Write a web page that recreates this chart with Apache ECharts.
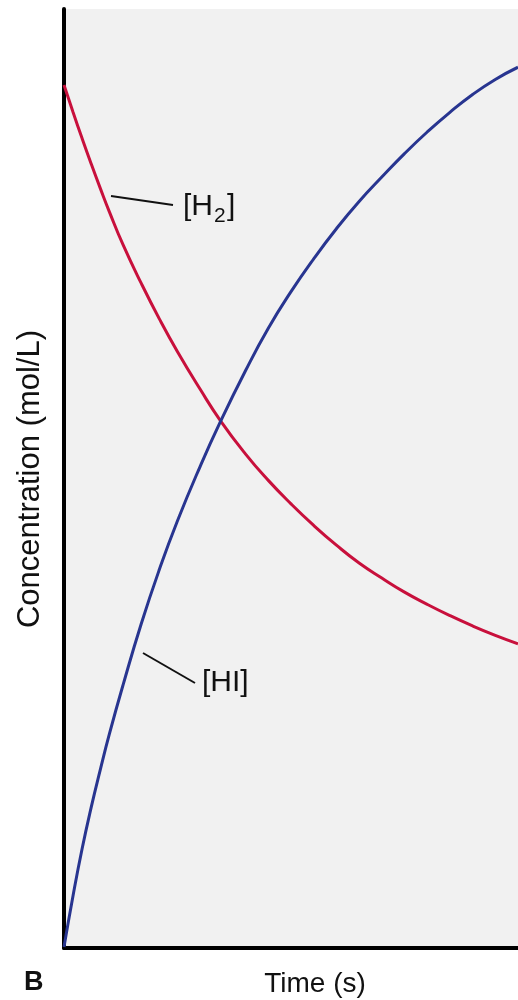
<!DOCTYPE html>
<html>
<head>
<meta charset="utf-8">
<script src="https://cdn.jsdelivr.net/npm/echarts@6/dist/echarts.min.js"></script>
<style>
  html, body { margin: 0; padding: 0; background: #fff; }
  #chart { width: 518px; height: 1000px; }
</style>
</head>
<body>
<div id="chart"></div>
<script>
// 浓度随时间变化 (读自图片, 两轴都是 0~100 的相对刻度)
var timeH2 = [0, 2, 4, 6, 8, 10, 13, 17, 21, 25, 30, 34.4, 40, 45, 50, 55, 60, 65, 70, 75, 80, 85, 90, 95, 100];
var concH2 = [91.9, 89.0, 86.2, 83.5, 80.9, 78.4, 74.9, 70.8, 67.0, 63.5, 59.5, 56.2, 52.6, 49.8, 47.3, 45.0, 42.9, 41.0, 39.4, 37.9, 36.6, 35.4, 34.3, 33.3, 32.4];

var timeHI = [0, 2, 4, 6, 8, 10, 13, 17, 21, 25, 30, 34.4, 40, 45, 50, 55, 60, 65, 70, 75, 80, 85, 90, 95, 100];
var concHI = [0.1, 5.6, 10.6, 15.0, 19.0, 22.8, 28.0, 34.5, 40.3, 45.5, 51.3, 56.0, 61.5, 66.0, 69.9, 73.4, 76.6, 79.5, 82.1, 84.6, 86.9, 89.0, 90.9, 92.5, 93.8];

function pairs(xs, ys) {
  var out = [];
  for (var i = 0; i < xs.length; i++) out.push([xs[i], ys[i]]);
  return out;
}

var font = '"Liberation Sans", Arial, Helvetica, sans-serif';
var ink = '#111';

var myChart = echarts.init(document.getElementById('chart'));
var option = {
  animation: false,
  backgroundColor: '#fff',
  grid: {
    left: 64, right: 0, top: 9, bottom: 52,
    show: true, backgroundColor: '#f1f1f1', borderWidth: 0
  },
  xAxis: {
    type: 'value', min: 0, max: 100,
    axisLine: { show: true, lineStyle: { color: '#000', width: 4 } },
    axisTick: { show: false }, axisLabel: { show: false }, splitLine: { show: false }
  },
  yAxis: {
    type: 'value', min: 0, max: 100,
    axisLine: { show: true, lineStyle: { color: '#000', width: 4 } },
    axisTick: { show: false }, axisLabel: { show: false }, splitLine: { show: false }
  },
  series: [
    {
      name: '[H2]', type: 'line', smooth: true, symbol: 'none',
      lineStyle: { color: '#c8103c', width: 3 },
      data: pairs(timeH2, concH2)
    },
    {
      name: '[HI]', type: 'line', smooth: true, symbol: 'none',
      lineStyle: { color: '#283590', width: 3 },
      data: pairs(timeHI, concHI)
    }
  ],
  graphic: [
    // 引线
    { type: 'line', shape: { x1: 111, y1: 196, x2: 173, y2: 205 }, style: { stroke: ink, lineWidth: 2 } },
    { type: 'line', shape: { x1: 143, y1: 653, x2: 195, y2: 683 }, style: { stroke: ink, lineWidth: 2 } },
    // [H2]
    { type: 'text', x: 183, y: 207, style: { text: '[H', font: '30px ' + font, fill: ink, verticalAlign: 'middle' } },
    { type: 'text', x: 214, y: 216, style: { text: '2', font: '21px ' + font, fill: ink, verticalAlign: 'middle' } },
    { type: 'text', x: 227, y: 207, style: { text: ']', font: '30px ' + font, fill: ink, verticalAlign: 'middle' } },
    // [HI]
    { type: 'text', x: 202, y: 683, style: { text: '[HI]', font: '30px ' + font, fill: ink, verticalAlign: 'middle' } },
    // 坐标轴标题
    { type: 'text', x: 30, y: 479, rotation: Math.PI / 2,
      style: { text: 'Concentration (mol/L)', font: '31px ' + font, fill: ink, align: 'center', verticalAlign: 'middle' } },
    { type: 'text', x: 315, y: 984, style: { text: 'Time (s)', font: '28px ' + font, fill: ink, align: 'center', verticalAlign: 'middle' } },
    { type: 'text', x: 24, y: 983, style: { text: 'B', font: 'bold 27px ' + font, fill: ink, verticalAlign: 'middle' } }
  ]
};
myChart.setOption(option);
</script>
</body>
</html>
